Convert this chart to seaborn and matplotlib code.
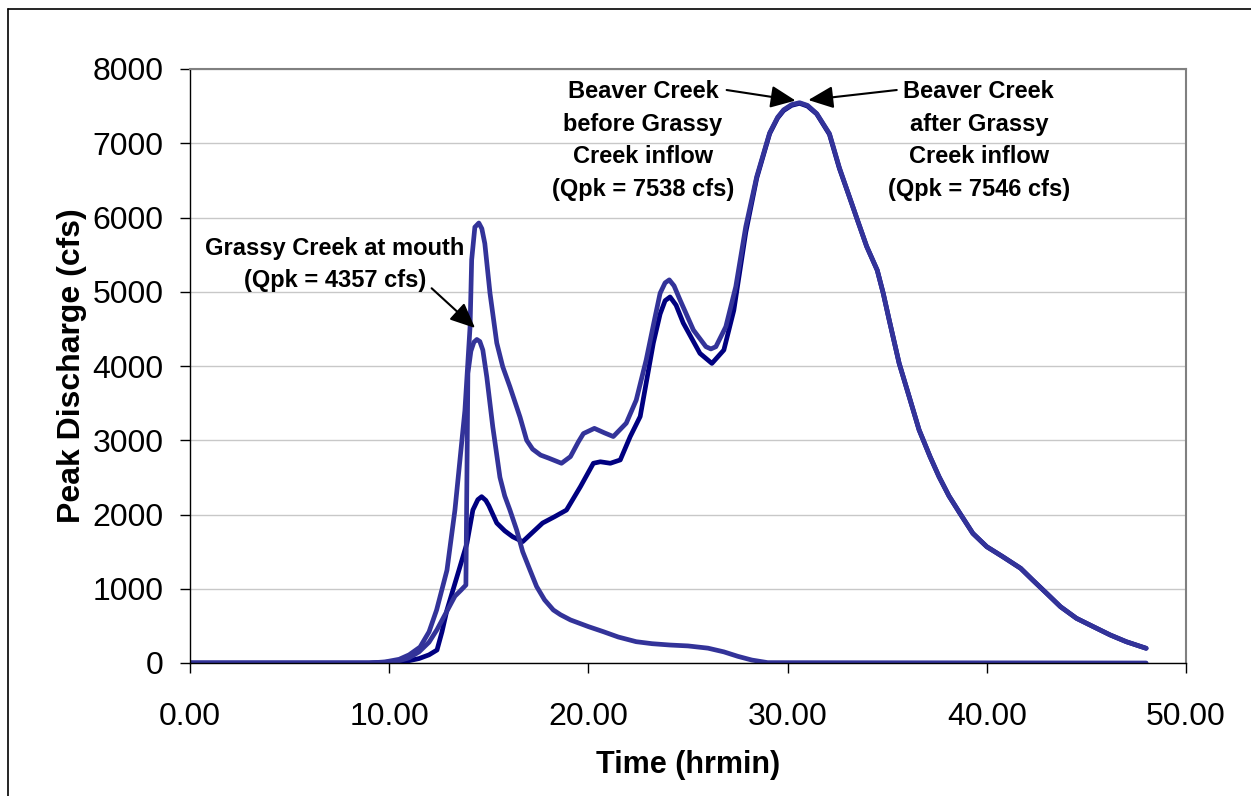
import matplotlib
matplotlib.use("Agg")
import matplotlib.pyplot as plt
import seaborn as sns
import pandas as pd
from matplotlib.lines import Line2D

# ---------------- data ----------------
grassy_t = [0, 9.0, 9.8, 10.5, 11.0, 11.5, 12.0, 12.4, 12.9, 13.3, 13.6, 13.85, 13.95, 14.1, 14.25, 14.4,
            14.55, 14.7, 14.9, 15.2, 15.56, 15.8, 16.06, 16.4, 16.7, 17.07, 17.4, 17.8, 18.24, 18.6, 19.1,
            20.0, 20.75, 21.5, 22.4, 23.2, 24.1, 25.0, 26.0, 26.8, 27.5, 28.2, 29.0, 48.0]
grassy_q = [0, 0, 10, 30, 70, 150, 280, 450, 700, 900, 980, 1050, 3900, 4200, 4320, 4357,
            4330, 4215, 3850, 3180, 2500, 2250, 2060, 1790, 1500, 1250, 1030, 850, 714, 650, 580,
            490, 422, 350, 287, 260, 242, 230, 200, 150, 90, 40, 5, 0]

before_t = [0, 9.0, 10.0, 10.8, 11.5, 12.0, 12.4, 12.65, 12.9, 13.4, 13.9, 14.2, 14.45, 14.64, 14.85, 15.0, 15.4,
            15.8, 16.2, 16.7, 17.2, 17.7, 18.3, 18.9, 19.6, 20.25, 20.6, 21.1, 21.6, 22.1, 22.6, 23.26, 23.6,
            23.85, 24.1, 24.4, 24.76, 25.6, 26.2, 26.8, 27.3, 27.9, 28.45, 29.1, 29.5, 29.8, 30.2, 30.6,
            31.0, 31.46, 32.1, 32.6, 33.1, 33.5, 33.97, 34.5, 34.8, 35.1, 35.6, 36.1, 36.6, 37.15,
            37.6, 38.1, 38.65, 39.3, 40.0, 40.8, 41.7, 42.3, 43.0, 43.7, 44.5, 45.35,
            46.2, 47.0, 48.0]
before_q = [0, 0, 5, 20, 60, 110, 175, 420, 714, 1160, 1610, 2060, 2200, 2240, 2190, 2120, 1885,
            1780, 1700, 1634, 1760, 1885, 1970, 2060, 2375, 2690, 2710, 2690, 2735, 3050, 3320, 4310, 4700,
            4880, 4930, 4820, 4580, 4170, 4035, 4215, 4750, 5800, 6530, 7130, 7340, 7440, 7510, 7538,
            7500, 7395, 7120, 6660, 6280, 5970, 5610, 5290, 4980, 4620, 4036, 3590, 3140, 2780,
            2510, 2250, 2016, 1746, 1566, 1432, 1275, 1118, 939, 758, 602, 489,
            377, 287, 198]

after_t = [0, 9.0, 9.8, 10.5, 11.0, 11.55, 12.0, 12.38, 12.9, 13.3, 13.55, 13.8, 14.06, 14.14,
           14.3, 14.5, 14.65, 14.8, 15.06, 15.4, 15.7, 16.06, 16.57, 16.9, 17.2, 17.6, 18.0, 18.65,
           19.1, 19.5, 19.75, 20.3, 20.8, 21.25, 21.9, 22.4, 22.9, 23.3, 23.6, 23.85, 24.06, 24.3,
           24.6, 25.27, 25.9, 26.15, 26.4, 26.9, 27.4, 27.9, 28.45, 29.1, 29.5, 29.8, 30.2, 30.6,
           31.0, 31.46, 32.1, 32.6, 33.1, 33.5, 33.97, 34.5, 34.8, 35.1, 35.6, 36.1, 36.6, 37.15,
           37.6, 38.1, 38.65, 39.3, 40.0, 40.8, 41.7, 42.3, 43.0, 43.7, 44.5, 45.35, 46.2, 47.0, 48.0]
after_q = [0, 0, 15, 50, 110, 215, 420, 714, 1250, 2060, 2730, 3400, 4530, 5430,
           5870, 5926, 5850, 5650, 4980, 4310, 3990, 3720, 3310, 3000, 2880, 2800, 2760, 2690,
           2780, 2980, 3090, 3160, 3100, 3050, 3230, 3540, 4080, 4600, 4980, 5120, 5160, 5080,
           4890, 4485, 4260, 4230, 4260, 4530, 5070, 5876, 6550, 7140, 7350, 7450, 7520, 7546,
           7510, 7400, 7130, 6670, 6280, 5970, 5610, 5290, 4980, 4620, 4036, 3590, 3140, 2780,
           2510, 2250, 2016, 1746, 1566, 1432, 1275, 1118, 939, 758, 602, 489, 377, 287, 198]

x_ticks = [0, 10, 20, 30, 40, 50]
y_ticks = [0, 1000, 2000, 3000, 4000, 5000, 6000, 7000, 8000]

series_names = ["Beaver Creek before", "Grassy Creek at mouth", "Beaver Creek after"]
df = pd.concat([
    pd.DataFrame({"t": before_t, "q": before_q, "s": series_names[0]}),
    pd.DataFrame({"t": grassy_t, "q": grassy_q, "s": series_names[1]}),
    pd.DataFrame({"t": after_t, "q": after_q, "s": series_names[2]}),
], ignore_index=True)

# ---------------- style ----------------
sns.set_theme(style="white")
plt.rcParams["font.family"] = ["Liberation Sans", "DejaVu Sans"]
plt.rcParams["text.color"] = "black"
plt.rcParams["axes.labelcolor"] = "black"
plt.rcParams["xtick.color"] = "black"
plt.rcParams["ytick.color"] = "black"

fig = plt.figure(figsize=(12.51, 7.96), dpi=100)
ax = fig.add_axes([190 / 1251, 1 - 663 / 796, (1186 - 190) / 1251, (663 - 69) / 796])

palette = {"Grassy Creek at mouth": "#333399",
           "Beaver Creek before": "#000080",
           "Beaver Creek after": "#333399"}
for name in series_names:
    sub = df[df["s"] == name]
    sns.lineplot(data=sub, x="t", y="q", ax=ax, color=palette[name], linewidth=3.4,
                 sort=False, estimator=None, legend=False)

ax.set_xlim(0, 50)
ax.set_ylim(0, 8000)
ax.set_xticks(x_ticks)
ax.set_xticklabels([f"{v:.2f}" for v in x_ticks])
ax.set_yticks(y_ticks)
ax.set_yticklabels([str(v) for v in y_ticks])
ax.tick_params(axis="both", which="major", direction="out", length=7, width=1,
               labelsize=23, color="black", labelcolor="black", bottom=True, left=True)
ax.tick_params(axis="y", pad=12)
ax.tick_params(axis="x", pad=21)
ax.yaxis.grid(True, color="#C8C8C8", linewidth=1)
ax.xaxis.grid(False)
ax.set_axisbelow(True)
for side in ["left", "bottom"]:
    ax.spines[side].set_color("black")
    ax.spines[side].set_linewidth(1)
for side in ["top", "right"]:
    ax.spines[side].set_color("#808080")
    ax.spines[side].set_linewidth(1.5)

ax.set_xlabel("Time (hrmin)", fontsize=22, fontweight="bold", labelpad=13)
ax.set_ylabel("Peak Discharge (cfs)", fontsize=23, fontweight="bold", labelpad=4)

txt_kw = dict(fontsize=17, fontweight="bold", ha="center", va="center", linespacing=1.55,
              color="black")
arr_kw = dict(arrowprops=dict(arrowstyle="-|>,head_length=0.9,head_width=0.4",
                              color="black", lw=1.5, shrinkA=0, shrinkB=0,
                              mutation_scale=17))
ax.text(7.28, 5367, "Grassy Creek at mouth\n(Qpk = 4357 cfs)", **txt_kw)
ax.text(22.74, 7037, "Beaver Creek\nbefore Grassy\nCreek inflow\n(Qpk = 7538 cfs)", **txt_kw)
ax.text(39.6, 7037, "Beaver Creek\nafter Grassy\nCreek inflow\n(Qpk = 7546 cfs)", **txt_kw)
ax.annotate("", xy=(14.31, 4512), xytext=(12.13, 5047), **arr_kw)
ax.annotate("", xy=(30.40, 7575), xytext=(26.94, 7717), **arr_kw)
ax.annotate("", xy=(31.04, 7582), xytext=(35.48, 7717), **arr_kw)

# outer frame (top and left edges visible)
fig.add_artist(Line2D([8 / 1251, 8 / 1251], [0, 1 - 9 / 796], color="black", lw=1.2))
fig.add_artist(Line2D([8 / 1251, 1], [1 - 9 / 796, 1 - 9 / 796], color="black", lw=1.2))

fig.savefig("out.png", dpi=100)
